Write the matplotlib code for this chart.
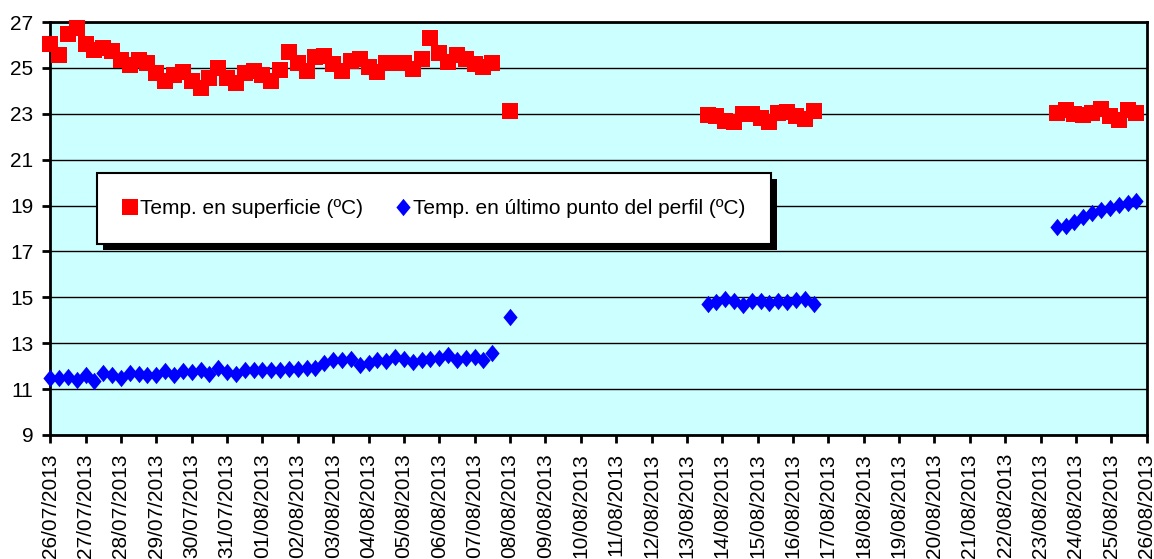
import matplotlib
matplotlib.use('Agg')
import matplotlib.pyplot as plt
import matplotlib.dates as mdates
import numpy as np
from matplotlib.patches import Rectangle

plt.rcParams['font.family'] = ['Liberation Sans', 'DejaVu Sans']

# ---------------- data ----------------
label_surface = 'Temp. en superficie (ºC)'
label_bottom = 'Temp. en último punto del perfil (ºC)'

# sampling starts (readings every 6 hours inside each block)
start_block1 = '2013-07-26T00:00'
start_single = '2013-08-08T00:00'
start_block2 = '2013-08-13T14:00'
start_block3 = '2013-08-23T11:00'

surface_block1 = [26.03, 25.57, 26.47, 26.73, 26.03, 25.78, 25.85, 25.75, 25.35, 25.13,
                  25.35, 25.23, 24.77, 24.43, 24.70, 24.84, 24.45, 24.12, 24.58, 24.99,
                  24.55, 24.33, 24.77, 24.87, 24.70, 24.45, 24.91, 25.71, 25.20, 24.88,
                  25.49, 25.52, 25.16, 24.88, 25.32, 25.38, 25.03, 24.80, 25.20, 25.23,
                  25.23, 24.94, 25.38, 26.29, 25.67, 25.27, 25.57, 25.38, 25.16, 25.06,
                  25.23]
bottom_block1 = [11.47, 11.48, 11.52, 11.41, 11.63, 11.35, 11.70, 11.63, 11.48, 11.70,
                 11.67, 11.63, 11.63, 11.77, 11.63, 11.77, 11.73, 11.85, 11.67, 11.92,
                 11.73, 11.67, 11.85, 11.85, 11.82, 11.85, 11.85, 11.88, 11.88, 11.90,
                 11.92, 12.14, 12.25, 12.25, 12.31, 12.07, 12.14, 12.28, 12.21, 12.40,
                 12.31, 12.17, 12.28, 12.31, 12.35, 12.50, 12.28, 12.35, 12.42, 12.28,
                 12.57]
surface_single = [23.10]
bottom_single = [14.13]
surface_block2 = [22.93, 22.90, 22.70, 22.62, 22.97, 22.97, 22.80, 22.65, 23.04, 23.06,
                  22.90, 22.78, 23.14]
bottom_block2 = [14.72, 14.78, 14.92, 14.85, 14.65, 14.82, 14.86, 14.75, 14.86, 14.80,
                 14.88, 14.92, 14.72]
surface_block3 = [23.05, 23.15, 22.98, 22.95, 23.05, 23.20, 22.92, 22.72, 23.15, 23.05]
bottom_block3 = [18.05, 18.12, 18.30, 18.50, 18.68, 18.80, 18.90, 19.02, 19.12, 19.20]

x_start = '2013-07-26'
x_end = '2013-08-26'
y_ticks = [9, 11, 13, 15, 17, 19, 21, 23, 25, 27]


def times(start, n):
    t0 = np.datetime64(start)
    return (t0 + np.arange(n) * np.timedelta64(6, 'h')).astype('datetime64[m]').astype(object)


blocks_surface = [(start_block1, surface_block1), (start_single, surface_single),
                  (start_block2, surface_block2), (start_block3, surface_block3)]
blocks_bottom = [(start_block1, bottom_block1), (start_single, bottom_single),
                 (start_block2, bottom_block2), (start_block3, bottom_block3)]

xs_s, ys_s, xs_b, ys_b = [], [], [], []
for st, vals in blocks_surface:
    xs_s += list(times(st, len(vals)))
    ys_s += list(vals)
for st, vals in blocks_bottom:
    xs_b += list(times(st, len(vals)))
    ys_b += list(vals)

# tall diamond marker
diamond = [(0, 1), (0.82, 0), (0, -1), (-0.82, 0), (0, 1)]

# ---------------- figure ----------------
fig = plt.figure(figsize=(11.54, 5.59), dpi=100)
ax = fig.add_axes([50.2 / 1154, 1 - 435 / 559, 1096.5 / 1154, 413 / 559])
ax.set_facecolor('#CCFFFF')

l1, = ax.plot(xs_s, ys_s, linestyle='none', marker='s', markersize=11.2,
              color='#FF0000', markeredgewidth=0, label=label_surface,
              clip_on=False, zorder=4)
l2, = ax.plot(xs_b, ys_b, linestyle='none', marker=diamond, markersize=12.5,
              color='#0000FF', markeredgewidth=0, label=label_bottom,
              clip_on=False, zorder=4)

ax.set_xlim(np.datetime64(x_start).astype(object), np.datetime64(x_end).astype(object))
ax.set_ylim(9, 27)
ax.set_yticks(y_ticks)
ax.xaxis.set_major_locator(mdates.DayLocator())
ax.xaxis.set_major_formatter(mdates.DateFormatter('%d/%m/%Y'))
for lab in ax.get_xticklabels():
    lab.set_rotation(90)

ax.tick_params(axis='both', direction='out', length=6, width=2, colors='black',
               labelsize=15, pad=6)
ax.tick_params(axis='x', pad=7)

ax.grid(axis='y', color='black', linewidth=1)
ax.grid(axis='x', visible=False)
ax.set_axisbelow(True)
for s in ax.spines.values():
    s.set_color('black')
    s.set_linewidth(2)

leg = ax.legend(handles=[l1, l2], loc='upper left', bbox_to_anchor=(0.043, 0.634),
                ncol=2, fontsize=15, frameon=True, fancybox=False,
                edgecolor='black', facecolor='white', framealpha=1,
                borderpad=1.25, handlelength=0.6, handletextpad=0.2,
                columnspacing=1.6, borderaxespad=0, markerscale=1.0)
leg.get_frame().set_linewidth(1.5)
leg.set_zorder(6)

fig.canvas.draw()
bb = leg.get_window_extent()
shadow = Rectangle((bb.x0 + 6, bb.y0 - 6), bb.width, bb.height, transform=None,
                   facecolor='black', edgecolor='none', zorder=5.9, clip_on=False)
ax.add_artist(shadow)

fig.savefig('out.png', dpi=100)
